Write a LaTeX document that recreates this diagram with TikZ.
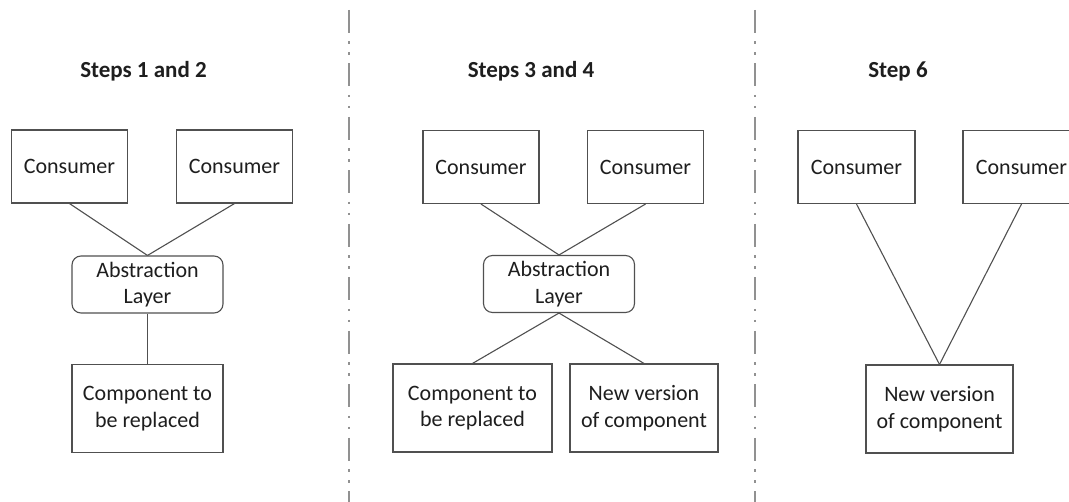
\documentclass[tikz,border=0pt]{standalone}
\usepackage{fontspec}
\setmainfont{Carlito}
\definecolor{ink}{RGB}{30,30,30}
\definecolor{edge}{RGB}{80,80,80}
\definecolor{divider}{RGB}{145,145,145}
\begin{document}
\begin{tikzpicture}[x=1pt,y=-1pt,
  box/.style={draw=edge,line width=1.1pt,fill=white,text=ink,align=center,
    inner sep=0pt,font=\fontsize{22}{26.5}\selectfont},
  consumer/.style={box,minimum width=116pt,minimum height=73pt},
  layer/.style={box,rounded corners=9pt,minimum width=151pt,minimum height=57pt},
  comp/.style={box,minimum height=88pt},
  title/.style={text=ink,font=\fontsize{23}{27}\selectfont\bfseries},
  link/.style={draw=edge,line width=1.1pt},
  sep/.style={draw=divider,line width=1.8pt,
    dash pattern=on 23pt off 8.5pt on 2.4pt off 8.6pt on 2.4pt off 8.6pt}]
\useasboundingbox (0,0) rectangle (1069,502);
\clip (0,0) rectangle (1069,502);

% panel separators
\draw[sep] (349,10) -- (349,502);
\draw[sep] (755,10) -- (755,502);

% panel 1: steps 1 and 2
\node[title] (t1) at (143.5,71) {Steps 1 and 2};
\node[consumer] (c11) at (69.5,166.5) {Consumer};
\node[consumer] (c12) at (234.5,166.5) {Consumer};
\node[layer] (al1) at (147.5,284.5) {Abstraction\\Layer};
\node[comp,minimum width=151pt] (old1) at (147.5,408.5) {Component to\\be replaced};
\draw[link] (c11.south) -- (al1.north);
\draw[link] (c12.south) -- (al1.north);
\draw[link] (al1.south) -- (old1.north);

% panel 2: steps 3 and 4
\node[title] (t2) at (531,71) {Steps 3 and 4};
\node[consumer] (c21) at (481,167) {Consumer};
\node[consumer] (c22) at (645.5,167) {Consumer};
\node[layer] (al2) at (559,284) {Abstraction\\Layer};
\node[comp,minimum width=159pt] (old2) at (472.5,408) {Component to\\be replaced};
\node[comp,minimum width=148pt] (new2) at (644,408) {New version\\of component};
\draw[link] (c21.south) -- (al2.north);
\draw[link] (c22.south) -- (al2.north);
\draw[link] (al2.south) -- (old2.north);
\draw[link] (al2.south) -- (new2.north);

% panel 3: step 6
\node[title] (t3) at (898,71) {Step 6};
\node[consumer,minimum width=117pt] (c31) at (856.5,167) {Consumer};
\node[consumer,minimum width=117pt] (c32) at (1021.5,167) {Consumer};
\node[comp,minimum width=147pt] (new3) at (939.5,409) {New version\\of component};
\draw[link] (c31.south) -- (new3.north);
\draw[link] (c32.south) -- (new3.north);
\end{tikzpicture}
\end{document}
